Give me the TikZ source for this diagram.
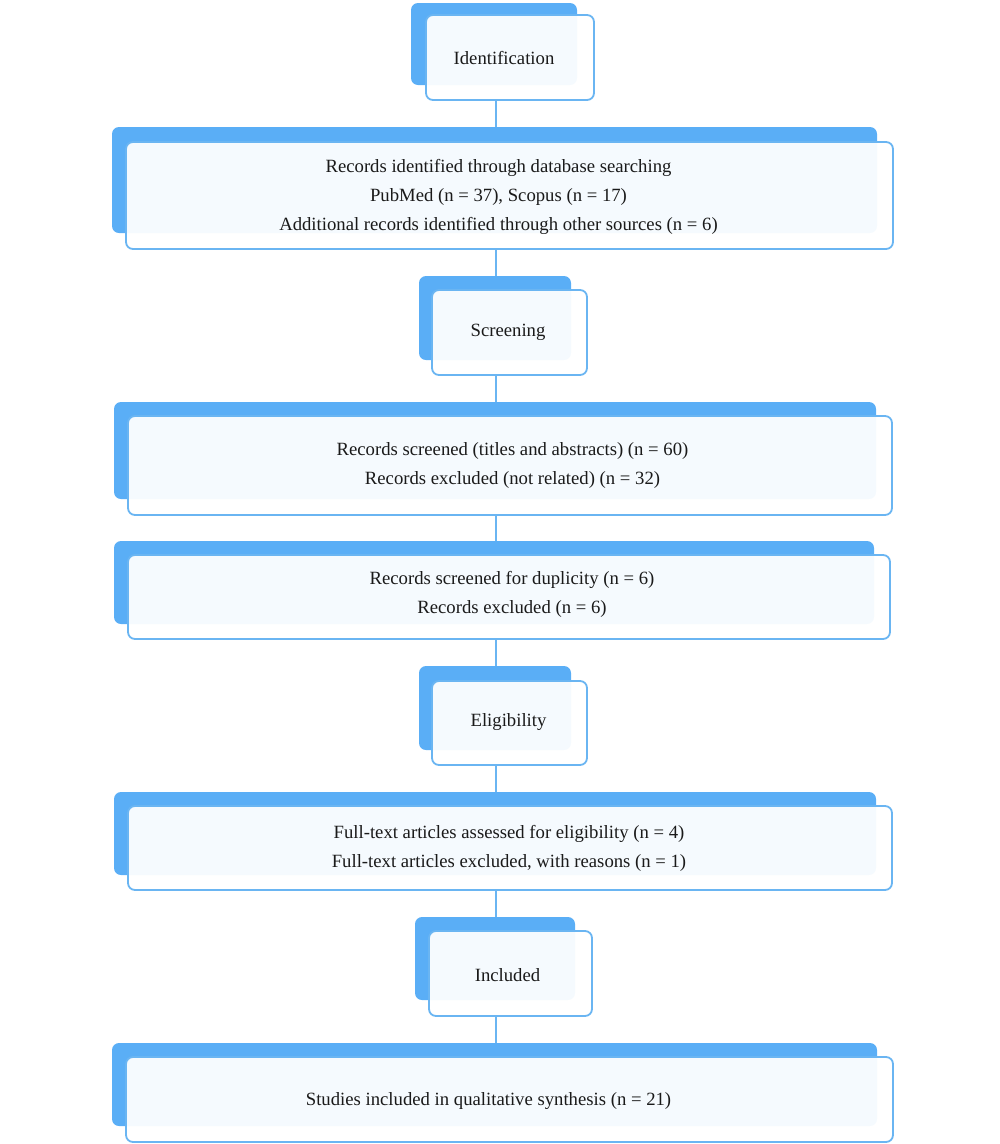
\documentclass[tikz,border=0pt]{standalone}
\usepackage{fontspec}
\setmainfont{Liberation Serif}
\usetikzlibrary{calc,backgrounds}
\definecolor{backblue}{HTML}{5AAEF6}
\definecolor{edgeblue}{HTML}{6AB5F2}
\definecolor{txt}{HTML}{1A1A1A}
\begin{document}
\begin{tikzpicture}[x=1pt,y=-1pt,
  back/.style={fill=backblue, draw=none, rounded corners=7pt, inner sep=0pt},
  front/.style={fill=white, fill opacity=0.94, draw=edgeblue, draw opacity=1,
    line width=1.8pt, rounded corners=7pt, inner sep=0pt},
  label/.style={inner sep=0pt, align=center, text=txt,
    font=\fontsize{18.7}{29}\selectfont},
  link/.style={draw=edgeblue, line width=1.8pt}]
\useasboundingbox (0,0) rectangle (1000,1144);
\coordinate (spine) at (496,0);
% back boxes
\node[back, minimum width=166pt, minimum height=82pt] (b1) at (494,44) {};
\node[back, minimum width=765pt, minimum height=106pt] (b2) at (494.5,180) {};
\node[back, minimum width=152pt, minimum height=84pt] (b3) at (495,318) {};
\node[back, minimum width=762pt, minimum height=97pt] (b4) at (495,450.5) {};
\node[back, minimum width=760pt, minimum height=83pt] (b5) at (494,582.5) {};
\node[back, minimum width=152pt, minimum height=84pt] (b6) at (495,708) {};
\node[back, minimum width=762pt, minimum height=83pt] (b7) at (495,833.5) {};
\node[back, minimum width=160pt, minimum height=83pt] (b8) at (495,958.5) {};
\node[back, minimum width=765pt, minimum height=83pt] (b9) at (494.5,1084.5) {};
% front boxes
\node[front, minimum width=168pt, minimum height=85pt] (f1) at (510,57.5) {};
\node[front, minimum width=767pt, minimum height=107pt] (f2) at (509.5,195.5) {};
\node[front, minimum width=155pt, minimum height=85pt] (f3) at (509.5,332.5) {};
\node[front, minimum width=764pt, minimum height=99pt] (f4) at (510,465.5) {};
\node[front, minimum width=762pt, minimum height=84pt] (f5) at (509,597) {};
\node[front, minimum width=155pt, minimum height=84pt] (f6) at (509.5,723) {};
\node[front, minimum width=764pt, minimum height=84pt] (f7) at (510,848) {};
\node[front, minimum width=163pt, minimum height=85pt] (f8) at (510.5,973.5) {};
\node[front, minimum width=767pt, minimum height=85pt] (f9) at (509.5,1099.5) {};
% texts
\node[label] (t1) at (504,58.5) {Identification};
\node[label] (t2) at (498.5,196.5) {Records identified through database searching\\PubMed (n = 37), Scopus (n = 17)\\Additional records identified through other sources (n = 6)};
\node[label] (t3) at (508,332) {Screening};
\node[label] (t4) at (512.5,465) {Records screened (titles and abstracts) (n = 60)\\Records excluded (not related) (n = 32)};
\node[label] (t5) at (512,594.5) {Records screened for duplicity (n = 6)\\Records excluded (n = 6)};
\node[label] (t6) at (508.5,722) {Eligibility};
\node[label] (t7) at (509,848) {Full-text articles assessed for eligibility (n = 4)\\Full-text articles excluded, with reasons (n = 1)};
\node[label] (t8) at (507.5,975) {Included};
\node[label] (t9) at (488.5,1101) {Studies included in qualitative synthesis (n = 21)};
% connectors
\begin{scope}[on background layer]
\draw[link] (f1.south -| spine) -- (f2.north -| spine);
\draw[link] (f2.south -| spine) -- (f3.north -| spine);
\draw[link] (f3.south -| spine) -- (f4.north -| spine);
\draw[link] (f4.south -| spine) -- (f5.north -| spine);
\draw[link] (f5.south -| spine) -- (f6.north -| spine);
\draw[link] (f6.south -| spine) -- (f7.north -| spine);
\draw[link] (f7.south -| spine) -- (f8.north -| spine);
\draw[link] (f8.south -| spine) -- (f9.north -| spine);
\end{scope}
\end{tikzpicture}
\end{document}
